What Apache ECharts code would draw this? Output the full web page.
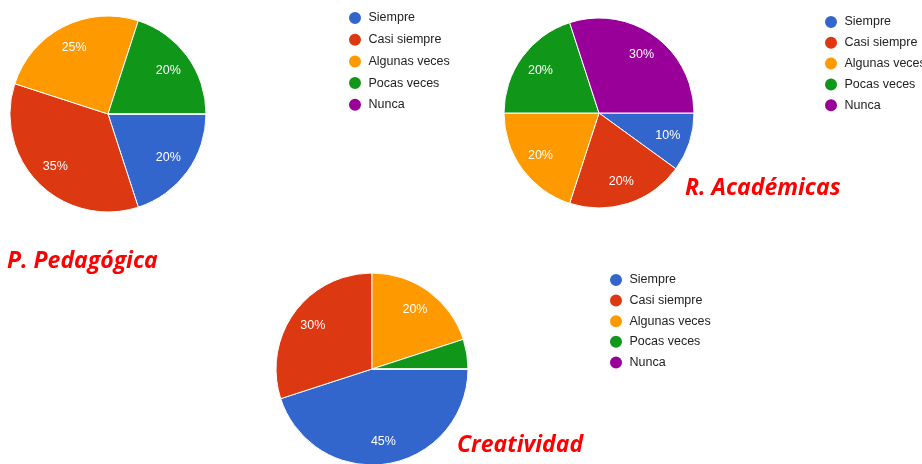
<!DOCTYPE html>
<html>
<head>
<meta charset="utf-8">
<script src="https://cdn.jsdelivr.net/npm/echarts@6/dist/echarts.min.js"></script>
<style>
  html, body { margin: 0; padding: 0; background: #fff; }
  #chart { width: 922px; height: 464px; }
</style>
</head>
<body>
<div id="chart"></div>
<script>
// categorias y porcentajes de cada grafico
var categorias = ['Siempre', 'Casi siempre', 'Algunas veces', 'Pocas veces', 'Nunca'];
var pedagogica = [20, 35, 25, 20, 0];
var academicas = [10, 20, 20, 20, 30];
var creatividad = [45, 30, 20, 5, 0];
var colores = ['#3366cc', '#dc3912', '#ff9900', '#109618', '#990099'];

var chart = echarts.init(document.getElementById('chart'));

function datos(valores) {
    return categorias.map(function (c, i) {
        return { name: c, value: valores[i] };
    });
}

// pastel con borde blanco
function pastel(valores, centro, r) {
    return {
        type: 'pie',
        center: centro,
        radius: [0, r],
        startAngle: 0,
        clockwise: true,
        label: { show: false },
        labelLine: { show: false },
        itemStyle: { borderColor: '#fff', borderWidth: 1 },
        emphasis: { scale: false },
        data: datos(valores)
    };
}

// serie transparente solo para poner las etiquetas mas hacia fuera
function etiquetas(valores, centro, r) {
    return {
        type: 'pie',
        center: centro,
        radius: [r * 0.46, r],
        startAngle: 0,
        clockwise: true,
        silent: true,
        legendHoverLink: false,
        minShowLabelAngle: 20,
        itemStyle: { color: 'transparent', borderWidth: 0 },
        label: {
            show: true,
            position: 'inside',
            formatter: '{d}%',
            color: '#fff',
            fontSize: 12.5,
            fontFamily: 'Liberation Sans, Arial, sans-serif'
        },
        labelLine: { show: false },
        emphasis: { disabled: true },
        data: datos(valores)
    };
}

function leyenda(left, top, gap) {
    return {
        orient: 'vertical',
        left: left,
        top: top,
        icon: 'circle',
        itemWidth: 17,
        itemHeight: 14,
        itemGap: gap,
        padding: 0,
        data: categorias,
        textStyle: {
            color: '#222',
            fontSize: 12.5,
            fontFamily: 'Liberation Sans, Arial, sans-serif'
        }
    };
}

var estiloTitulo = {
    color: '#ff0000',
    fontSize: 23,
    fontWeight: 'bold',
    fontStyle: 'italic',
    fontFamily: 'Open Sans, sans-serif'
};

var option = {
    animation: false,
    color: colores,
    title: [
        { text: 'P. Pedagógica', left: 7, top: 250, padding: 0, textStyle: estiloTitulo },
        { text: 'R. Académicas', left: 685, top: 177, padding: 0, textStyle: estiloTitulo },
        { text: 'Creatividad', left: 457, top: 434, padding: 0, textStyle: estiloTitulo }
    ],
    legend: [
        leyenda(347, 10, 5.7),
        leyenda(823, 14, 4.8),
        leyenda(608, 272, 4.6)
    ],
    series: [
        pastel(pedagogica, [108, 114], 98),
        pastel(academicas, [599, 113], 95),
        pastel(creatividad, [372, 369], 96),
        etiquetas(pedagogica, [108, 114], 98),
        etiquetas(academicas, [599, 113], 95),
        etiquetas(creatividad, [372, 369], 96)
    ]
};

chart.setOption(option);
</script>
</body>
</html>
